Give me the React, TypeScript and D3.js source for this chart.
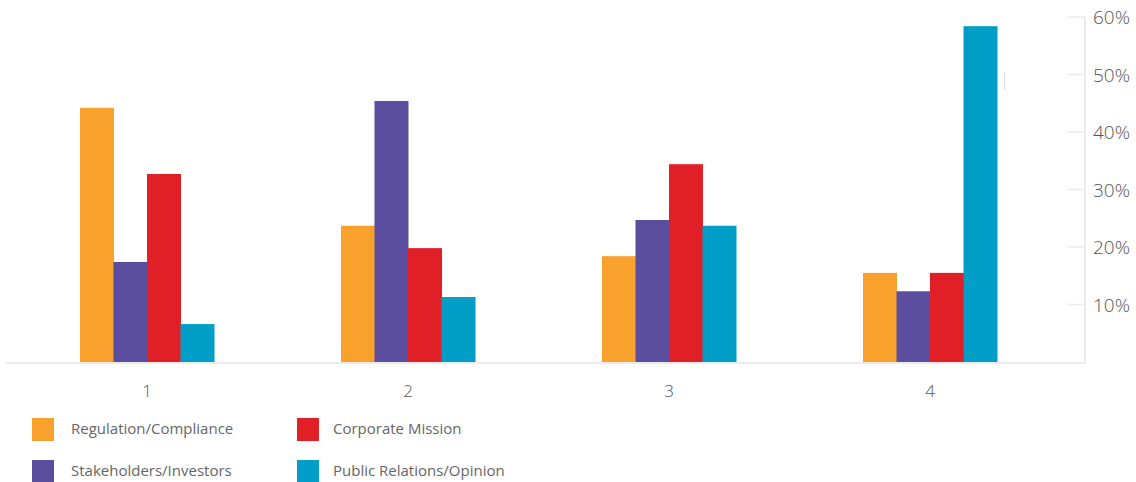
import React from "react";
import * as d3 from "d3";

const categories = ["1", "2", "3", "4"];
const seriesNames = [
  "Regulation/Compliance",
  "Stakeholders/Investors",
  "Corporate Mission",
  "Public Relations/Opinion",
];
const regulation = [44.2, 23.7, 18.4, 15.5];
const stakeholders = [17.4, 45.4, 24.7, 12.3];
const corporate = [32.7, 19.8, 34.4, 15.5];
const publicRel = [6.6, 11.3, 23.7, 58.4];
const yTicks = [10, 20, 30, 40, 50, 60];
const colors = ["#F8A12D", "#5B4E9F", "#E01F26", "#009EC7"];

const W = 1136;
const H = 482;

export default function App() {
  const series = [regulation, stakeholders, corporate, publicRel];
  const base = 362;
  const top = 17;
  const axisX = 1085;
  const x = d3.scaleBand<string>().domain(categories).range([16.5, 1060.5]).paddingInner(0).paddingOuter(0);
  const y = d3.scaleLinear().domain([0, 60]).range([base, top]);
  const groupW = 134;
  const inner = d3
    .scaleBand<string>()
    .domain(seriesNames)
    .range([0, groupW]);
  const font = "'Open Sans', 'DejaVu Sans', sans-serif";

  const legendItems = [
    { name: seriesNames[0], color: colors[0], col: 0, row: 0 },
    { name: seriesNames[2], color: colors[2], col: 1, row: 0 },
    { name: seriesNames[1], color: colors[1], col: 0, row: 1 },
    { name: seriesNames[3], color: colors[3], col: 1, row: 1 },
  ];

  return (
    <svg
      width={W}
      height={H}
      style={{ position: "absolute", left: 0, top: 0, background: "#fff" }}
    >
      {/* bars */}
      {categories.map((c, ci) => {
        const cx = (x(c) as number) + x.bandwidth() / 2;
        const gx = cx - groupW / 2;
        return (
          <g key={c}>
            {series.map((s, si) => (
              <rect
                key={si}
                x={gx + (inner(seriesNames[si]) as number)}
                y={y(s[ci])}
                width={inner.bandwidth() + 0.5}
                height={base - y(s[ci])}
                fill={colors[si]}
              />
            ))}
            <text
              x={cx}
              y={397}
              textAnchor="middle"
              fontFamily={font}
              fontWeight={300}
              fontSize={17}
              fill="#555"
            >
              {c}
            </text>
          </g>
        );
      })}
      {/* baseline */}
      <line x1={6} x2={axisX + 1} y1={base + 1} y2={base + 1} stroke="#ebebeb" strokeWidth={2} />
      {/* right axis */}
      <line x1={axisX} x2={axisX} y1={top} y2={base + 1} stroke="#ebebeb" strokeWidth={2} />
      {yTicks.map((t) => (
        <g key={t}>
          <line x1={1067} x2={axisX} y1={y(t)} y2={y(t)} stroke="#ebebeb" strokeWidth={1.5} />
          <text
            x={1093}
            y={y(t) + 7}
            fontFamily={font}
            fontWeight={300}
            fontSize={19}
            fill="#555"
          >
            {t}%
          </text>
        </g>
      ))}
      {/* small stray mark */}
      <line x1={1004.5} x2={1004.5} y1={71} y2={90} stroke="#e0e0e0" strokeWidth={1} />
      {/* legend */}
      {legendItems.map((it) => {
        const lx = it.col === 0 ? 32 : 297;
        const ly = it.row === 0 ? 418 : 460;
        return (
          <g key={it.name}>
            <rect x={lx} y={ly} width={22} height={23} fill={it.color} />
            <text
              x={it.col === 0 ? 71 : 333}
              y={ly + 16}
              fontFamily={font}
              fontSize={15}
              fill="#666"
            >
              {it.name}
            </text>
          </g>
        );
      })}
    </svg>
  );
}
